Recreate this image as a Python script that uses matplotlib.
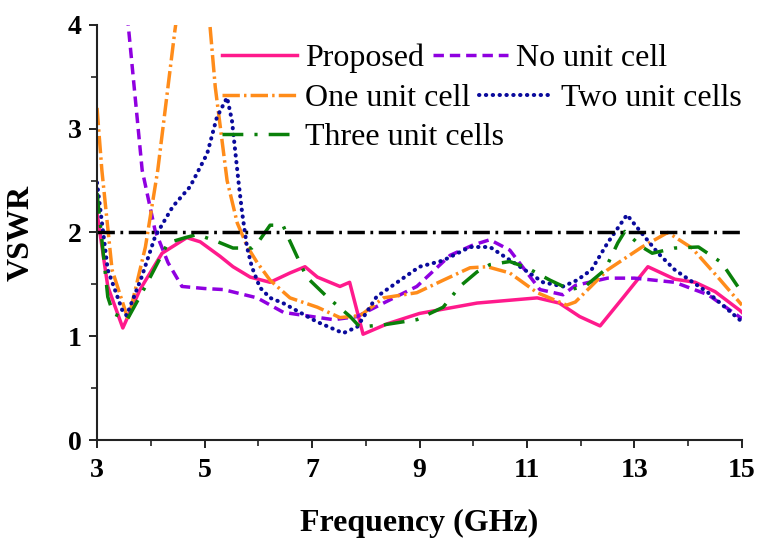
import matplotlib
matplotlib.use('Agg')
import matplotlib.pyplot as plt

plt.rcParams['font.family'] = ['Liberation Serif', 'DejaVu Serif']

# VSWR curves of the antenna variants (frequency in GHz)
proposed_f = [3.0, 3.2, 3.48, 3.8, 4.21, 4.67, 4.92, 5.29, 5.53, 5.85, 6.22, 6.59, 6.87,
              7.1, 7.52, 7.7, 7.95, 8.4, 9.0, 10.07, 11.19, 11.6, 11.98, 12.36, 12.8,
              13.25, 13.75, 14.13, 14.5, 14.96, 15.0]
proposed_v = [2.19, 1.48, 1.08, 1.45, 1.8, 1.95, 1.91, 1.77, 1.67, 1.57, 1.52, 1.61, 1.67,
              1.57, 1.48, 1.52, 1.02, 1.12, 1.22, 1.32, 1.37, 1.32, 1.19, 1.10, 1.38,
              1.67, 1.55, 1.52, 1.43, 1.25, 1.23]

no_cell_f = [3.5, 3.58, 3.84, 4.08, 4.32, 4.58, 5.0, 5.35, 5.98, 6.47, 7.0, 7.4, 7.84,
             8.33, 8.95, 9.57, 10.0, 10.31, 10.68, 11.24, 11.67, 11.9, 12.5, 13.0, 13.75,
             14.37, 15.0]
no_cell_v = [4.45, 4.0, 2.6, 2.02, 1.71, 1.48, 1.46, 1.45, 1.37, 1.23, 1.19, 1.16, 1.19,
             1.32, 1.48, 1.78, 1.88, 1.93, 1.83, 1.45, 1.40, 1.49, 1.56, 1.56, 1.52,
             1.40, 1.17]

one_cell_f = [3.0, 3.09, 3.28, 3.58, 3.9, 4.13, 4.45, 4.6, 4.8, 5.0, 5.1, 5.2, 5.42, 5.61,
              5.8, 5.98, 6.22, 6.59, 7.1, 7.52, 7.9, 8.33, 8.95, 9.44, 9.94, 10.26, 10.68,
              11.19, 11.74, 11.9, 12.5, 13.14, 13.62, 14.07, 14.55, 15.0]
one_cell_v = [3.2, 2.6, 1.64, 1.16, 1.86, 2.6, 3.95, 4.5, 4.9, 4.6, 4.0, 3.4, 2.5, 2.09,
              1.86, 1.71, 1.54, 1.37, 1.28, 1.18, 1.2, 1.37, 1.42, 1.54, 1.66, 1.67, 1.61,
              1.42, 1.3, 1.33, 1.64, 1.86, 2.0, 1.85, 1.57, 1.30]

two_cell_f = [3.0, 3.2, 3.47, 3.55, 3.83, 4.08, 4.41, 4.73, 5.05, 5.23, 5.42, 5.51, 5.63,
              5.7, 5.79, 5.88, 6.03, 6.22, 6.46, 7.09, 7.58, 7.84, 8.2, 8.64, 9.0, 9.44,
              9.94, 10.31, 10.87, 11.3, 11.67, 11.93, 12.2, 12.5, 12.86, 13.14, 13.44,
              13.75, 14.37, 15.0]
two_cell_v = [2.48, 1.64, 1.25, 1.2, 1.57, 1.96, 2.25, 2.44, 2.76, 3.11, 3.3, 3.08, 2.5,
              2.19, 1.86, 1.67, 1.47, 1.37, 1.32, 1.14, 1.03, 1.09, 1.38, 1.54, 1.67, 1.73,
              1.86, 1.86, 1.67, 1.52, 1.48, 1.54, 1.64, 1.9, 2.17, 1.99, 1.8,
              1.64, 1.42, 1.14]

three_cell_f = [3.0, 3.2, 3.3, 3.56, 3.9, 4.32, 4.64, 4.86, 5.2, 5.53, 5.88, 6.03, 6.22,
                6.46, 6.55, 6.72, 6.9, 7.28, 7.71, 7.89, 8.33, 8.95, 9.44, 9.75, 10.07,
                10.31, 10.68, 11.0, 11.43, 11.8, 12.08, 12.45, 12.69, 12.82, 13.14, 13.33,
                13.75, 14.19, 14.62, 15.0]
three_cell_v = [2.38, 1.38, 1.22, 1.16, 1.48, 1.9, 1.95, 1.98, 1.92, 1.85, 1.85, 1.93, 2.07,
                2.07, 1.96, 1.77, 1.57, 1.38, 1.19, 1.09, 1.11, 1.16, 1.28, 1.48, 1.62,
                1.69, 1.72, 1.66, 1.54, 1.45, 1.48, 1.64, 1.9, 2.01, 1.86, 1.8,
                1.85, 1.86, 1.71, 1.42]

vswr_limit = 2.0
x_major = [3, 5, 7, 9, 11, 13, 15]
x_minor = [4, 6, 8, 10, 12, 14]
y_major = [0, 1, 2, 3, 4]
y_minor = [0.5, 1.5, 2.5, 3.5]

fig = plt.figure(figsize=(7.61, 5.4), dpi=100)
ax = fig.add_axes([0.1275, 0.185, 0.8475, 0.769])

lw = 2.5
l_prop, = ax.plot(proposed_f, proposed_v, color='#ff1a8c', lw=lw, label='Proposed')
l_no, = ax.plot(no_cell_f, no_cell_v, color='#8f00e0', lw=lw,
                linestyle=(0, (3.0, 1.7)), label='No unit cell')
l_one, = ax.plot(one_cell_f, one_cell_v, color='#ff8c1a', lw=lw,
                 linestyle=(0, (5.0, 1.2, 0.7, 1.2)), label='One unit cell')
l_two, = ax.plot(two_cell_f, two_cell_v, color='#0a0a9c', lw=2.9,
                 linestyle=(0, (0.1, 1.6)), dash_capstyle='round', label='Two unit cells')
l_three, = ax.plot(three_cell_f, three_cell_v, color='#0a800a', lw=lw,
                   linestyle=(0, (6.0, 3.2, 0.9, 3.2)), label='Three unit cells')
ax.axhline(vswr_limit, color='black', lw=2.5, linestyle=(0, (5, 1.6, 0.8, 1.6)))

ax.set_xlim(3, 15)
ax.set_ylim(0, 4)
ax.set_xticks(x_major)
ax.set_xticks(x_minor, minor=True)
ax.set_yticks(y_major)
ax.set_yticks(y_minor, minor=True)

for side in ['top', 'right']:
    ax.spines[side].set_visible(False)
for side in ['left', 'bottom']:
    ax.spines[side].set_linewidth(1.5)
    ax.spines[side].set_color('#222222')

ax.tick_params(which='major', direction='out', length=6, width=1.4, color='#222222',
               labelsize=20)
ax.tick_params(axis='x', which='major', pad=7)
ax.tick_params(axis='y', which='major', pad=5)
ax.tick_params(which='minor', direction='out', length=4, width=1.2, color='#222222')
for lab in ax.get_xticklabels() + ax.get_yticklabels():
    lab.set_fontweight('bold')

ax.set_xlabel('Frequency (GHz)', fontsize=23, fontweight='bold')
ax.set_ylabel('VSWR', fontsize=23, fontweight='bold')
ax.xaxis.set_label_coords(0.5, -0.165)
ax.yaxis.set_label_coords(-0.095, 0.5)

# legend rows are laid out independently, so use one legend per block
leg_kw = dict(loc='upper left', frameon=False, fontsize=23, handlelength=2.34,
              handletextpad=0.25, labelspacing=0.32, borderpad=0, borderaxespad=0,
              bbox_transform=fig.transFigure)
row_h = 40 / 540
top = 0.919
leg1 = ax.legend(handles=[l_prop, l_one, l_three], bbox_to_anchor=(0.2917, top), **leg_kw)
ax.add_artist(leg1)
leg2 = ax.legend(handles=[l_no], bbox_to_anchor=(0.569, top), **leg_kw)
ax.add_artist(leg2)
ax.legend(handles=[l_two], bbox_to_anchor=(0.629, top - row_h), **leg_kw)

fig.savefig('out.png', dpi=100)
